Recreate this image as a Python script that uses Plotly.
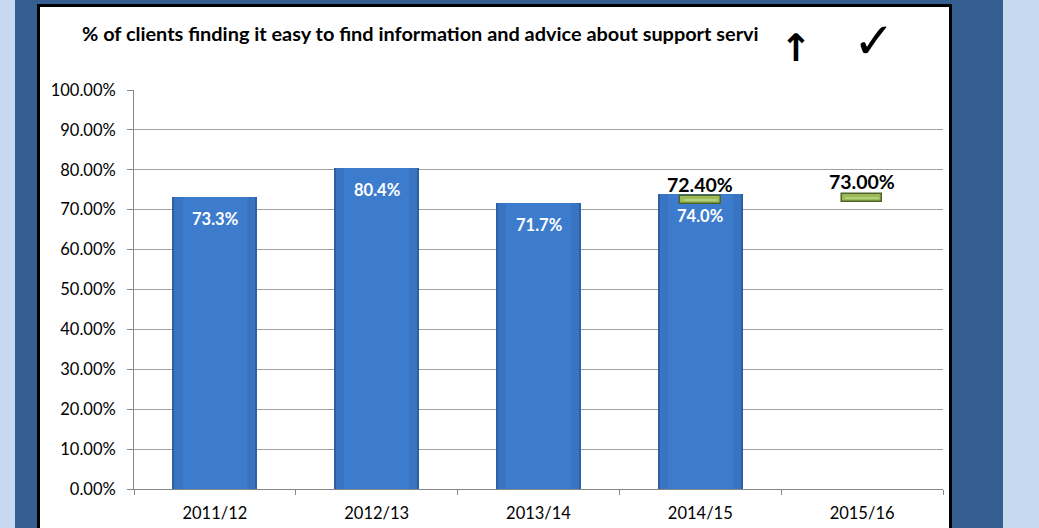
import plotly.graph_objects as go

categories = ["2011/12", "2012/13", "2013/14", "2014/15", "2015/16"]
actual = [0.733, 0.804, 0.717, 0.740, None]
actual_labels = ["73.3%", "80.4%", "71.7%", "74.0%", ""]
target = [None, None, None, 0.724, 0.730]
target_labels = ["", "", "", "72.40%", "73.00%"]
y_ticks = [i / 10 for i in range(11)]
title_text = "% of clients finding it easy to find information and advice about support servi"

W, H = 1039, 528
L, R, T, B = 134, 943, 90, 489

def px(x):
    return (x - L) / (R - L)

def py(y):
    return (B - y) / (B - T)

fig = go.Figure()

# layered bars to suggest the gradient
for w, col in [(0.525, "#2D5FA3"), (0.50, "#3874C2"), (0.40, "#3D7CCD")]:
    fig.add_trace(go.Bar(x=categories, y=actual, width=w, marker=dict(color=col, line=dict(width=0)),
                         hoverinfo="skip", showlegend=False))

# target markers
tb = [None if t is None else t - 0.0105 for t in target]
th = [None if t is None else 0.021 for t in target]
fig.add_trace(go.Bar(x=categories, y=th, base=tb, width=0.25,
                     marker=dict(color="#9BBB59", line=dict(color="#4F6228", width=1.5)),
                     showlegend=False))
tb2 = [None if t is None else t - 0.003 for t in target]
th2 = [None if t is None else 0.006 for t in target]
fig.add_trace(go.Bar(x=categories, y=th2, base=tb2, width=0.21,
                     marker=dict(color="#B5D07A", line=dict(width=0)),
                     hoverinfo="skip", showlegend=False))

ann = []
for c, v, t in zip(categories, actual, actual_labels):
    if v is not None:
        ann.append(dict(x=c, y=v, text="<b>%s</b>" % t, showarrow=False, yshift=-22,
                        font=dict(family="Lato, sans-serif", size=16.5, color="white")))
for c, v, t in zip(categories, target, target_labels):
    if v is not None:
        ann.append(dict(x=c, y=v, text="<b>%s</b>" % t, showarrow=False, yshift=16,
                        font=dict(family="Lato, sans-serif", size=19.5, color="black")))
ann.append(dict(xref="paper", yref="paper", x=px(80), y=py(33), xanchor="left", yanchor="middle",
                text="<b>%s</b>" % title_text, showarrow=False,
                font=dict(family="Lato, sans-serif", size=19.9, color="black")))
ann.append(dict(xref="paper", yref="paper", x=px(796), y=py(48), xanchor="center", yanchor="middle",
                text="<b>↑</b>", showarrow=False,
                font=dict(family="DejaVu Sans", size=38, color="black")))
ann.append(dict(xref="paper", yref="paper", x=px(874), y=py(41), xanchor="center", yanchor="middle",
                text="✓", showarrow=False,
                font=dict(family="DejaVu Sans", size=50, color="black")))

shapes = [
    dict(type="rect", xref="paper", yref="paper", x0=px(15), x1=px(1003), y0=py(560), y1=py(-10),
         fillcolor="#365F91", line=dict(width=0), layer="below"),
    dict(type="rect", xref="paper", yref="paper", x0=px(38.5), x1=px(950.5), y0=py(560), y1=py(5.5),
         fillcolor="white", line=dict(color="black", width=3), layer="below"),
]

fig.update_layout(
    width=W, height=H,
    margin=dict(l=L, r=W - R, t=T, b=H - B, pad=0, autoexpand=False),
    paper_bgcolor="#C6D9F1", plot_bgcolor="rgba(0,0,0,0)",
    barmode="overlay", bargap=0,
    annotations=ann, shapes=shapes,
    font=dict(family="Lato, sans-serif", size=16.5, color="black"),
    xaxis=dict(type="category", categoryorder="array", categoryarray=categories,
               tickson="boundaries", ticks="outside", ticklen=5, tickcolor="#888888",
               showline=True, linecolor="#888888", linewidth=1, showgrid=False,
               tickfont=dict(size=16.5, color="black"), range=[-0.5, 4.5], fixedrange=True,
               ticklabelstandoff=9, automargin=False),
    yaxis=dict(range=[0, 1], tickvals=y_ticks, tickformat=".2%", ticks="outside", ticklen=6,
               tickcolor="#888888", showline=True, linecolor="#888888", linewidth=1,
               showgrid=True, gridcolor="#A0A0A0", gridwidth=1, zeroline=False,
               tickfont=dict(size=16.5, color="black"), ticklabelstandoff=8, fixedrange=True,
               automargin=False),
)

fig.write_html("out.html", config={"displayModeBar": False},
               post_script="document.body.style.margin='0';document.body.style.overflow='hidden';")
